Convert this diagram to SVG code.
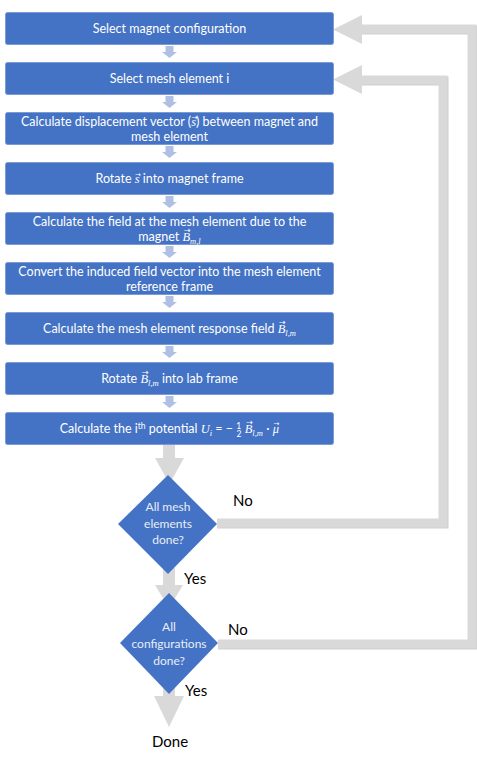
<svg xmlns="http://www.w3.org/2000/svg" width="477" height="762" viewBox="0 0 477 762">
<style>
.box{fill:#4472C4;stroke:#7A9BD6;stroke-width:1}
.dia{fill:#4472C4}
.t{font-family:Lato,"Liberation Sans",sans-serif;font-size:12.5px;fill:#fff;text-anchor:middle}
.dt{font-family:Lato,"Liberation Sans",sans-serif;font-size:12px;fill:#E8EEF8;text-anchor:middle}
.m{font-family:"Liberation Serif","DejaVu Serif",serif;font-style:italic}
.sub{font-size:8.5px}
.ar{font-family:"DejaVu Sans",sans-serif;font-size:8px;font-style:normal}
.ar7{font-family:"DejaVu Sans",sans-serif;font-size:7px;font-style:normal}
.lbl{font-family:Lato,"Liberation Sans",sans-serif;font-size:15px;fill:#000}
.sa{fill:#AFC0E4}
.ga{fill:#D9D9D9}
.loop{fill:none;stroke:#D9D9D9;stroke-width:9}
.loopsh{fill:none;stroke:#CFCFCF;stroke-width:9}
</style>
<g id="connectors">
  <g class="sa">
    <rect x="165.5" y="46" width="8" height="6"/><polygon points="162,52 177,52 169.5,58"/>
    <rect x="165.5" y="96" width="8" height="6"/><polygon points="162,102 177,102 169.5,108"/>
    <rect x="165.5" y="146" width="8" height="6"/><polygon points="162,152 177,152 169.5,158"/>
    <rect x="165.5" y="196" width="8" height="6"/><polygon points="162,202 177,202 169.5,208"/>
    <rect x="165.5" y="246" width="8" height="6"/><polygon points="162,252 177,252 169.5,258"/>
    <rect x="165.5" y="296" width="8" height="6"/><polygon points="162,302 177,302 169.5,308"/>
    <rect x="165.5" y="346" width="8" height="6"/><polygon points="162,352 177,352 169.5,358"/>
    <rect x="165.5" y="396" width="8" height="6"/><polygon points="162,402 177,402 169.5,408"/>
  </g>
  <g class="ga">
    <rect x="163" y="445" width="12" height="14"/><polygon points="155,458 184,458 169.5,484"/>
    <rect x="163" y="568" width="12" height="18"/><polygon points="155,585 183,585 169,608"/>
    <rect x="163" y="688" width="12" height="9"/><polygon points="154,696 184,696 169,727"/>
  </g>
  <polyline class="loopsh" points="217,524 444,524 444,81 360,81"/>
  <polyline class="loop" points="217,523 443,523 443,80 360,80"/>
  <polygon class="ga" points="362,65 362,94 333,79.5"/>
  <polyline class="loopsh" points="218,645 473,645 473,30 360,30"/>
  <polyline class="loop" points="218,644 472,644 472,29 360,29"/>
  <polygon class="ga" points="362,15 362,44 333,29.5"/>
</g>
<g id="n1"><rect class="box" x="5.5" y="12.5" width="328" height="32" rx="2"/><text class="t" x="169.5" y="32.5">Select magnet configuration</text></g>
<g id="n2"><rect class="box" x="5.5" y="62.5" width="328" height="32" rx="2"/><text class="t" x="169.5" y="82.5">Select mesh element i</text></g>
<g id="n3"><rect class="box" x="5.5" y="112.5" width="328" height="32" rx="2"/><text class="t" x="169.5" y="126">Calculate displacement vector (<tspan class="m">s</tspan><tspan class="ar7" dx="-4.6" dy="-6">→</tspan><tspan dx="-1.3" dy="6">) between magnet and</tspan></text><text class="t" x="169.5" y="140.5">mesh element</text></g>
<g id="n4"><rect class="box" x="5.5" y="162.5" width="328" height="32" rx="2"/><text class="t" x="169.5" y="182.5">Rotate <tspan class="m">s</tspan><tspan class="ar7" dx="-4.6" dy="-6">→</tspan><tspan dx="-1.3" dy="6"> into magnet frame</tspan></text></g>
<g id="n5"><rect class="box" x="5.5" y="212.5" width="328" height="32" rx="2"/><text class="t" x="169.5" y="226">Calculate the field at the mesh element due to the</text><text class="t" x="169.5" y="241">magnet <tspan class="m">B</tspan><tspan class="ar" dx="-6.2" dy="-8">→</tspan><tspan class="m sub" dx="-0.5" dy="10.5">m,l</tspan></text></g>
<g id="n6"><rect class="box" x="5.5" y="262.5" width="328" height="32" rx="2"/><text class="t" x="169.5" y="276">Convert the induced field vector into the mesh element</text><text class="t" x="169.5" y="290.5">reference frame</text></g>
<g id="n7"><rect class="box" x="5.5" y="312.5" width="328" height="32" rx="2"/><text class="t" x="169.5" y="333">Calculate the mesh element response field <tspan class="m">B</tspan><tspan class="ar" dx="-6.2" dy="-8">→</tspan><tspan class="m sub" dx="-0.5" dy="10.5">l,m</tspan></text></g>
<g id="n8"><rect class="box" x="5.5" y="362.5" width="328" height="32" rx="2"/><text class="t" x="169.5" y="383">Rotate <tspan class="m">B</tspan><tspan class="ar" dx="-6.2" dy="-8">→</tspan><tspan class="m sub" dx="-0.5" dy="10.5">l,m</tspan><tspan dy="-2.5"> into lab frame</tspan></text></g>
<g id="n9"><rect class="box" x="5.5" y="412.5" width="328" height="32" rx="2"/><text class="t" x="169.5" y="433">Calculate the i<tspan class="sub" dy="-4.5">th</tspan><tspan dy="4.5"> potential </tspan><tspan class="m">U</tspan><tspan class="m sub" dy="2.5">i</tspan><tspan dy="-2.5"> = − </tspan><tspan class="sub" dy="-4">1</tspan><tspan class="sub" dx="-4.6" dy="8">2</tspan><tspan dy="-4"> </tspan><tspan class="m">B</tspan><tspan class="ar" dx="-6.2" dy="-8">→</tspan><tspan class="m sub" dx="-0.5" dy="10.5">l,m</tspan><tspan dy="-2.5"> · </tspan><tspan class="m">μ</tspan><tspan class="ar7" dx="-5.5" dy="-7">→</tspan></text></g>
<g id="d1"><polygon class="dia" points="168,475 217,524 168,574 118,524"/><text class="dt" x="168" y="511">All mesh</text><text class="dt" x="168" y="527.5">elements</text><text class="dt" x="168" y="544">done?</text></g>
<g id="d2"><polygon class="dia" points="169,593 218,643 169,694 120,643"/><text class="dt" x="169" y="631">All</text><text class="dt" x="169" y="648">configurations</text><text class="dt" x="169" y="665">done?</text></g>
<g id="labels">
<text class="lbl" x="233" y="506">No</text>
<text class="lbl" x="184" y="584">Yes</text>
<text class="lbl" x="228" y="635">No</text>
<text class="lbl" x="185" y="696">Yes</text>
<text class="lbl" x="152" y="747">Done</text>
</g>
</svg>
